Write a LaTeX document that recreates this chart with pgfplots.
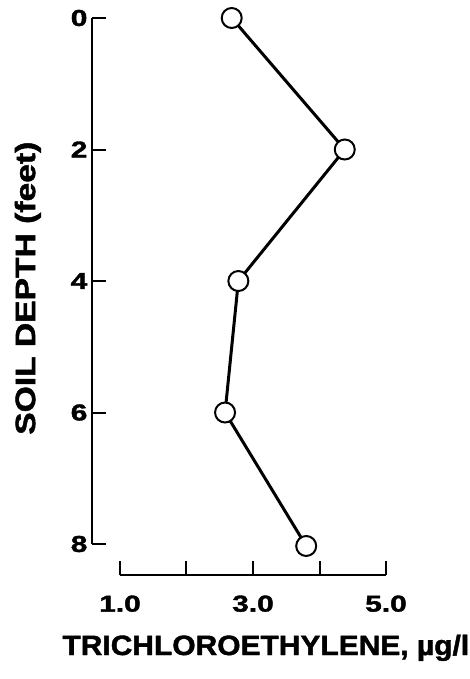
\documentclass[border=0pt]{standalone}
\usepackage{fontspec}
\setmainfont{Liberation Sans}[BoldFeatures={FakeBold=1.5}]
\usepackage{pgfplots}
\pgfplotsset{compat=1.18}
\begin{document}
\begin{tikzpicture}
\begin{axis}[
  scale only axis,
  width=266pt, height=526pt,
  xmin=1, xmax=5, ymin=0, ymax=8,
  y dir=reverse,
  axis x line=bottom, axis y line=left,
  axis x line shift=31pt, axis y line shift=28pt,
  axis line style={-, line width=2pt, black},
  xtick={1,2,3,4,5}, xticklabels={1.0,,3.0,,5.0},
  ytick={0,2,4,6,8},
  tick align=inside,
  major tick length=14pt,
  every tick/.style={line width=2pt, black},
  /pgf/number format/assume math mode=true,
  tick label style={font=\fontsize{23}{26}\selectfont\bfseries, xscale=1.3},
  xticklabel style={yshift=-17pt},
  xlabel={TRICHLOROETHYLENE, µg/l},
  ylabel={SOIL DEPTH (feet)},
  xlabel style={font=\fontsize{28}{32}\selectfont\bfseries, xscale=1.07, xshift=12pt, yshift=-16pt},
  ylabel style={font=\fontsize{28}{32}\selectfont\bfseries, xscale=1.2, yshift=22pt, xshift=-6pt},
  clip=false,
]
\addplot[line width=3pt, black, mark=*, mark size=10pt,
  mark options={fill=white, draw=black, line width=2pt}]
  coordinates {(2.68,0) (4.38,2) (2.78,4) (2.58,6) (3.80,8.03)};
\end{axis}
\pgfresetboundingbox
\path (current axis.south west) ++(-120pt,-135pt) rectangle ++(470pt,679pt);
\end{tikzpicture}
\end{document}
